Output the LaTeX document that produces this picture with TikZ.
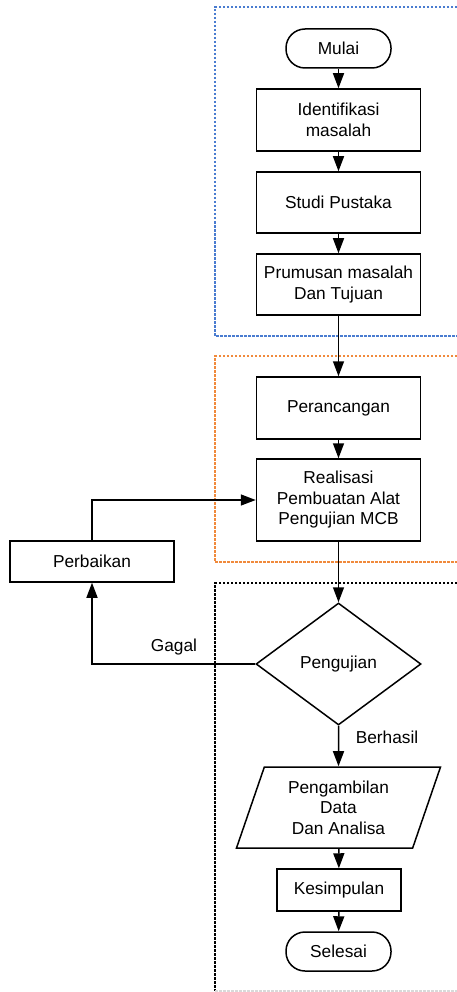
\documentclass[tikz,border=0pt]{standalone}
\usepackage{fontspec}
\setmainfont{Liberation Sans}
\usetikzlibrary{shapes.geometric,arrows.meta}
\definecolor{blokbiru}{HTML}{4A7CD0}
\definecolor{blokoranye}{HTML}{F08A3C}
\tikzset{
    every node/.style={font=\fontsize{17.3}{20.5}\selectfont},
    garis/.style={line width=1.5pt, -{Triangle[length=15pt,width=11pt]}},
    terminal/.style={draw, line width=1.5pt, rounded corners=19pt, minimum width=105pt, minimum height=39pt},
    proses/.style={draw, line width=1.5pt, align=center, minimum width=164pt},
    keputusan/.style={draw, line width=1.5pt, diamond, inner sep=0pt, minimum width=165pt, minimum height=122pt},
    masukan/.style={draw, line width=1.5pt, trapezium, trapezium left angle=62.6, trapezium right angle=117.4,
        trapezium stretches body, align=center, inner sep=0pt, minimum width=204pt, minimum height=81pt},
    blok/.style={line width=1.4pt, dash pattern=on 2.5pt off 1.5pt}
}
\begin{document}
\begin{tikzpicture}[x=1pt, y=-1pt]
    \useasboundingbox (0,0) rectangle (457,992);
    \draw[blok, blokbiru] (457,7) -| (215,336) -- (457,336);
    \draw[blok, blokoranye] (457,356) -| (215,562) -- (457,562);
    \draw[blok, black] (457,583) -| (215,991);
    \draw[blok, black!15] (215,991) -- (457,991);

    \node[terminal] (mulai) at (338.5,48.5) {Mulai};
    \node[proses, minimum height=62pt] (identifikasi) at (338.5,120) {Identifikasi\\masalah};
    \node[proses, minimum height=61pt] (studi) at (338.5,202.5) {Studi Pustaka};
    \node[proses, minimum height=61pt] (rumusan) at (338.5,284.5) {Prumusan masalah\\Dan Tujuan};
    \node[proses, minimum height=62pt] (rancang) at (338.5,408) {Perancangan};
    \node[proses, minimum height=82pt] (realisasi) at (338.5,500) {Realisasi\\Pembuatan Alat\\Pengujian MCB};
    \node[proses, minimum height=41pt] (perbaikan) at (92,561.5) {Perbaikan};
    \node[keputusan] (uji) at (338.5,664) {Pengujian};
    \node[masukan] (data) at (338.5,807.5) {Pengambilan\\Data\\Dan Analisa};
    \node[proses, minimum width=124pt, minimum height=42pt] (simpul) at (339,890) {Kesimpulan};
    \node[terminal] (selesai) at (338.5,951.5) {Selesai};

    \node (gagal) at (174,647) {Gagal};
    \node (berhasil) at (387,737) {Berhasil};

    \draw[garis] (mulai) -- (identifikasi);
    \draw[garis] (identifikasi) -- (studi);
    \draw[garis] (studi) -- (rumusan);
    \draw[garis] (rumusan) -- (rancang);
    \draw[garis] (rancang) -- (realisasi);
    \draw[garis] (realisasi) -- (uji);
    \draw[garis] (uji) -- (data);
    \draw[garis] (data) -- (simpul);
    \draw[garis] (simpul) -- (selesai);
    \draw[garis] (uji.west) -| (perbaikan.south);
    \draw[garis] (perbaikan.north) |- (realisasi.west);
\end{tikzpicture}
\end{document}
